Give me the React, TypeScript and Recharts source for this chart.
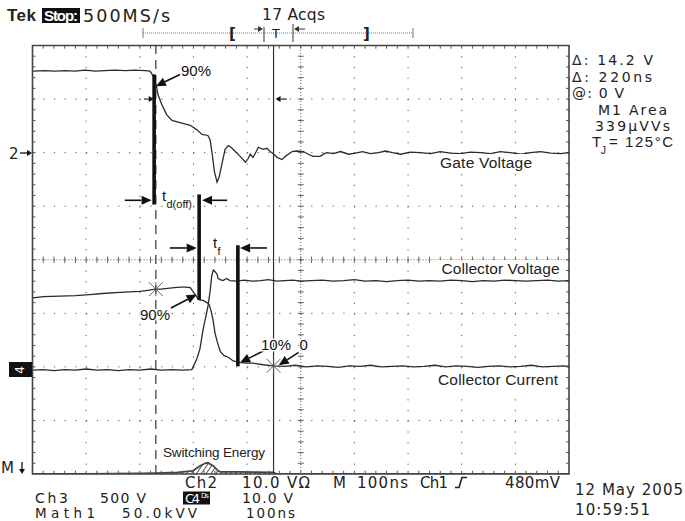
import {
  ComposedChart,
  Line,
  Area,
  XAxis,
  YAxis,
  CartesianGrid,
  ReferenceLine,
  ReferenceArea,
  ReferenceDot,
} from 'recharts';

// time in ns (100 ns/div), level in graticule divisions (0 = bottom edge)
const gateTime = [1, 23, 42, 61, 79, 98, 117, 135, 154, 173, 191, 210, 219, 225, 231, 234, 241, 250, 260, 275, 294, 306, 316, 327, 331, 335, 339, 344, 348, 354, 359, 365, 370, 378, 387, 397, 402, 406, 411, 417, 421, 430, 437, 443, 450, 456, 465, 471, 477, 484, 493, 505, 514, 523, 536, 544, 549, 561, 574, 589, 602, 615, 630, 645, 658, 671, 686, 704, 723, 742, 760, 779, 798, 816, 835, 854, 872, 891, 910, 928, 947, 966, 984, 1000];
const gateLevel = [7.52, 7.53, 7.52, 7.53, 7.52, 7.54, 7.52, 7.53, 7.54, 7.53, 7.54, 7.53, 7.52, 7.43, 7.24, 7.08, 6.9, 6.71, 6.6, 6.56, 6.51, 6.43, 6.34, 6.32, 6.24, 5.97, 5.65, 5.45, 5.55, 5.83, 6.06, 6.13, 6.1, 6.02, 5.93, 5.82, 5.89, 5.97, 5.91, 6.02, 6.1, 6.06, 6.08, 6.02, 5.97, 5.91, 5.87, 5.93, 5.97, 6.02, 6.03, 6.02, 5.97, 5.93, 5.93, 5.98, 6.0, 5.98, 6.02, 5.97, 5.99, 6.02, 5.98, 6.0, 6.03, 6.0, 5.97, 6.01, 6.0, 5.98, 6.02, 5.99, 5.98, 6.01, 6.0, 5.98, 6.02, 6.0, 5.97, 6.0, 6.02, 5.99, 5.98, 6.0];

const vceTime = [1, 20, 40, 60, 80, 100, 120, 140, 160, 180, 200, 220, 240, 260, 280, 297, 306, 312, 318, 324, 327, 331, 334, 337, 340, 344, 346, 350, 355, 362, 368, 380, 395, 410, 425, 440, 455, 470, 485, 500, 520, 540, 560, 580, 600, 620, 640, 660, 680, 700, 720, 740, 760, 780, 800, 820, 840, 860, 880, 900, 920, 940, 960, 980, 1000];
const vceLevel = [1.94, 1.95, 1.93, 1.95, 1.94, 1.96, 1.94, 1.95, 1.93, 1.95, 1.94, 1.96, 1.94, 1.95, 1.94, 1.95, 2.14, 2.33, 2.7, 2.98, 3.13, 3.41, 3.69, 3.81, 3.78, 3.73, 3.65, 3.63, 3.61, 3.65, 3.61, 3.6, 3.62, 3.6, 3.61, 3.63, 3.6, 3.61, 3.62, 3.6, 3.61, 3.62, 3.6, 3.61, 3.63, 3.6, 3.61, 3.59, 3.61, 3.62, 3.6, 3.61, 3.6, 3.62, 3.61, 3.59, 3.61, 3.6, 3.62, 3.61, 3.6, 3.61, 3.62, 3.6, 3.61];

const icTime = [1, 20, 51, 80, 107, 130, 163, 180, 200, 215, 228, 240, 256, 265, 275, 285, 294, 299, 305, 311, 318, 325, 329, 333, 337, 340, 344, 350, 357, 365, 374, 387, 400, 411, 430, 449, 470, 490, 510, 530, 550, 570, 590, 610, 630, 650, 670, 690, 710, 730, 750, 770, 790, 810, 830, 850, 870, 890, 910, 930, 950, 970, 990, 1000];
const icLevel = [3.29, 3.31, 3.32, 3.33, 3.35, 3.37, 3.39, 3.4, 3.41, 3.43, 3.45, 3.45, 3.47, 3.48, 3.49, 3.49, 3.48, 3.41, 3.32, 3.25, 3.24, 3.2, 3.17, 3.04, 2.85, 2.64, 2.48, 2.29, 2.21, 2.18, 2.11, 2.08, 2.07, 2.07, 2.04, 2.02, 2.01, 2.03, 2.0, 2.02, 2.01, 1.99, 2.02, 2.01, 2.03, 2.0, 2.01, 2.02, 2.0, 2.01, 2.03, 2.0, 2.02, 2.01, 1.99, 2.01, 2.02, 2.0, 2.01, 2.03, 2.0, 2.01, 2.02, 2.01];

// Math1 = switching energy (power trace), near the bottom edge
const mathTime = [0, 100, 200, 230, 270, 299, 312, 322, 327, 337, 346, 350, 387, 449, 455, 600, 800, 1000];
const mathLevel = [0, 0, 0.01, 0.015, 0.03, 0.06, 0.15, 0.2, 0.21, 0.15, 0.06, 0.04, 0.04, 0.03, 0, 0, 0, 0];

// measurement annotations (ns, div)
const measureBars = [
  [226.7, 7.46, 5.03],
  [310.6, 5.22, 3.25],
  [382.8, 4.27, 2.01],
];
const bigArrows = [
  [275, 7.46, 230, 7.24],
  [172, 5.11, 222, 5.11],
  [363, 5.11, 316, 5.11],
  [256, 4.22, 306, 4.22],
  [437, 4.22, 387, 4.22],
  [258, 3.1, 306, 3.35],
  [431, 2.3, 387, 2.08],
  [496, 2.27, 459, 2.03],
];
const smallArrows = [
  [208, 7.0, 226, 7.0],
  [474, 7.0, 453, 7.0],
];
const cursorTimes = [229.9, 449.3];
const cursorMarks = [
  [229.9, 3.45],
  [449.3, 2.02],
];

const xTicks = [0, 100, 200, 300, 400, 500, 600, 700, 800, 900, 1000];
const yTicks = [0, 1, 2, 3, 4, 5, 6, 7, 8];
const minorX = Array.from({ length: 49 }, (_, i) => (i + 1) * 20);
const minorY = Array.from({ length: 39 }, (_, i) => Math.round((i + 1) * 2) / 10);

const zip = (ts: number[], vs: number[]) => ts.map((t, i) => ({ t, v: vs[i] }));
const gateData = zip(gateTime, gateLevel);
const vceData = zip(vceTime, vceLevel);
const icData = zip(icTime, icLevel);
const mathData = zip(mathTime, mathLevel);

const SCOPE = "'DejaVu Sans', sans-serif";
const SANS = "'Liberation Sans', Arial, sans-serif";
const INK = '#222';
const TRACE = '#2b2b2b';

function ArrowShape(props: any) {
  const { x1, y1, x2, y2, head = 10, half = 4, width = 1.6 } = props;
  const dx = x2 - x1;
  const dy = y2 - y1;
  const len = Math.hypot(dx, dy) || 1;
  const ux = dx / len;
  const uy = dy / len;
  const bx = x2 - ux * head;
  const by = y2 - uy * head;
  const pts = `${x2},${y2} ${bx - uy * half},${by + ux * half} ${bx + uy * half},${by - ux * half}`;
  return (
    <g>
      <line x1={x1} y1={y1} x2={bx} y2={by} stroke="#111" strokeWidth={width} />
      <polygon points={pts} fill="#111" />
    </g>
  );
}

function CrossMark(props: any) {
  const { cx, cy } = props;
  const r = 7;
  return (
    <g stroke="#555" strokeWidth={0.9}>
      <line x1={cx - r} y1={cy - r} x2={cx + r} y2={cy + r} />
      <line x1={cx - r} y1={cy + r} x2={cx + r} y2={cy - r} />
      <line x1={cx} y1={cy - r} x2={cx} y2={cy + r} />
    </g>
  );
}

function Overlay() {
  const t = (x: number, y: number, s: string, opts: any = {}) => (
    <text
      x={x}
      y={y}
      fontFamily={opts.sans ? SANS : SCOPE}
      fontSize={opts.size ?? 15}
      fontWeight={opts.bold ? 'bold' : 'normal'}
      fill={opts.fill ?? INK}
      textLength={opts.len}
      lengthAdjust={opts.len ? 'spacing' : undefined}
    >
      {s}
    </text>
  );
  const halo = (x: number, y: number, s: string, size = 15) => (
    <text x={x} y={y} fontFamily={SANS} fontSize={size} fill="#111" stroke="#fff" strokeWidth={3} paintOrder="stroke">
      {s}
    </text>
  );
  return (
    <svg
      width={685}
      height={521}
      style={{ position: 'absolute', left: 0, top: 0, pointerEvents: 'none' }}
    >
      <defs>
        <pattern id="hatch" patternUnits="userSpaceOnUse" width="4" height="4" patternTransform="rotate(35)">
          <line x1="0" y1="0" x2="0" y2="4" stroke="#222" strokeWidth="1.5" />
        </pattern>
      </defs>

      {/* header */}
      {t(7, 21, 'Tek', { sans: true, bold: true, size: 17, len: 29 })}
      <rect x={42} y={8} width={38} height={15} fill="#111" />
      {t(44, 21, 'Stop:', { sans: true, bold: true, size: 15, len: 34, fill: '#fff' })}
      {t(83, 22, '500MS/s', { size: 17.5, len: 87 })}
      {t(262, 20, '17 Acqs', { size: 15.5, len: 63 })}

      {/* record ruler */}
      <line x1={143} y1={33} x2={413} y2={33} stroke="#777" strokeWidth={1} strokeDasharray="1 1" />
      <line x1={143} y1={28} x2={143} y2={38} stroke="#777" />
      <line x1={413} y1={28} x2={413} y2={38} stroke="#777" />
      {t(229, 39, '[', { size: 15, bold: true })}
      {t(363, 39, ']', { size: 15, bold: true })}
      {t(272, 38, 'T', { size: 13 })}
      <line x1={264} y1={27} x2={264} y2={42} stroke="#333" />
      <line x1={293} y1={24} x2={293} y2={42} stroke="#333" />
      <line x1={254} y1={29} x2={262} y2={29} stroke="#333" />
      <polygon points="263,29 258,26 258,32" fill="#333" />
      <line x1={297} y1={29} x2={305} y2={29} stroke="#333" />
      <polygon points="294,29 299,26 299,32" fill="#333" />

      {/* channel markers on the left */}
      {t(9, 158.5, '2', { size: 15 })}
      <line x1={20} y1={153} x2={28} y2={153} stroke="#111" strokeWidth={1.3} />
      <polygon points="32,153 27,150 27,156" fill="#111" />
      <rect x={9} y={362} width={23} height={15} fill="#111" />
      <text x={20} y={370} fontFamily={SCOPE} fontSize={12} fill="#fff" transform="rotate(-90 20 370)" textAnchor="middle" dominantBaseline="central">
        4
      </text>
      {t(1, 473, 'M', { size: 15, len: 14 })}
      <line x1={22} y1={462} x2={22} y2={470} stroke="#111" strokeWidth={1.3} />
      <polygon points="22,474 19,469 25,469" fill="#111" />

      {/* readouts on the right */}
      {t(572, 65, '\u0394: 14.2 V', { size: 14, len: 81 })}
      {t(572, 81.5, '\u0394: 220ns', { size: 14, len: 80 })}
      {t(572, 97.5, '@: 0 V', { size: 14, len: 52 })}
      {t(598, 115, 'M1 Area', { size: 14, len: 69 })}
      {t(595, 131, '339\u00b5VVs', { size: 14, len: 75 })}
      {t(592, 147, 'T', { sans: true, size: 15 })}
      {t(601, 154, 'J', { sans: true, size: 10 })}
      {t(609, 147, '= 125\u00b0C', { sans: true, size: 15, len: 64 })}

      {/* trace labels */}
      <rect x={437} y={154} width={98} height={18} fill="#fff" />
      {t(440, 168, 'Gate Voltage', { sans: true, size: 15.5, len: 92 })}
      <rect x={438} y={260} width={126} height={18} fill="#fff" />
      {t(441.5, 273.5, 'Collector Voltage', { sans: true, size: 15.5, len: 118 })}
      <rect x={435} y={372} width={128} height={18} fill="#fff" />
      {t(438, 385, 'Collector Current', { sans: true, size: 15.5, len: 120 })}
      <rect x={160} y={443} width={109} height={17} fill="#fff" />
      {t(163, 456.5, 'Switching Energy', { sans: true, size: 13.5, len: 102 })}

      {/* measurement labels */}
      {halo(181, 76, '90%')}
      {halo(140, 319.5, '90%')}
      {halo(261, 349.5, '10%')}
      {halo(299.5, 349.5, '0')}
      {halo(162, 200.5, 't')}
      {halo(166.5, 208, 'd(off)', 11)}
      {halo(213, 248, 't')}
      {halo(217.5, 255, 'f', 11)}

      {/* status line */}
      {t(185, 488, 'Ch2', { len: 32 })}
      {t(242, 488, '10.0 V\u03a9', { len: 68 })}
      {t(333, 488, 'M', { len: 11 })}
      {t(357, 488, '100ns', { len: 51 })}
      {t(420, 488, 'Ch1', { len: 28 })}
      <polyline points="455,487.5 459,487.5 462,477.5 467,477.5" fill="none" stroke={INK} strokeWidth={1.6} />
      {t(505, 488, '480mV', { len: 55 })}
      {t(35, 503, 'Ch3', { len: 33, size: 14 })}
      {t(100, 503, '500 V', { len: 46, size: 14 })}
      <rect x={183} y={491.5} width={27} height={13} fill="#111" />
      {t(185, 503, 'C4', { len: 15, size: 13, fill: '#fff' })}
      {t(201, 497.5, 'Ds', { len: 8, size: 7, fill: '#fff' })}
      {t(242, 503, '10.0 V', { len: 51, size: 14 })}
      {t(35, 517.5, 'Math1', { len: 60, size: 13.5 })}
      {t(122, 517.5, '50.0kVV', { len: 75, size: 13.5 })}
      {t(246, 517.5, '100ns', { len: 49, size: 13.5 })}
      {t(575, 494.5, '12 May 2005', { len: 108 })}
      {t(575, 515, '10:59:51', { len: 75 })}
    </svg>
  );
}

export default function App() {
  return (
    <div style={{ position: 'absolute', left: 0, top: 0, width: 685, height: 521, background: '#fff' }}>
      <ComposedChart
        width={685}
        height={521}
        data={mathData}
        margin={{ top: 45.5, right: 116, bottom: 47, left: 32.5 }}
      >
        <XAxis dataKey="t" type="number" domain={[0, 1000]} ticks={xTicks} allowDataOverflow hide />
        <YAxis type="number" domain={[0, 8]} ticks={yTicks} allowDataOverflow hide />
        <CartesianGrid stroke="#555" strokeDasharray="1.2 9.52" strokeWidth={1} />

        {/* center cross, denser dots with minor ticks */}
        <ReferenceLine x={500} stroke="#666" strokeDasharray="1 2" />
        <ReferenceLine y={4} stroke="#666" strokeDasharray="1 2" />
        {minorX.map((x) => (
          <ReferenceLine key={`cx${x}`} segment={[{ x, y: 3.94 }, { x, y: 4.06 }]} stroke="#666" />
        ))}
        {minorY.map((y) => (
          <ReferenceLine key={`cy${y}`} segment={[{ x: 494.4, y }, { x: 505.6, y }]} stroke="#666" />
        ))}

        {/* graticule frame and its edge ticks */}
        {minorX.map((x) => (
          <ReferenceLine key={`tb${x}`} segment={[{ x, y: 0 }, { x, y: 0.06 }]} stroke="#555" />
        ))}
        {minorX.map((x) => (
          <ReferenceLine key={`tt${x}`} segment={[{ x, y: 8 }, { x, y: 7.94 }]} stroke="#555" />
        ))}
        {minorY.map((y) => (
          <ReferenceLine key={`tl${y}`} segment={[{ x: 0, y }, { x: 5.6, y }]} stroke="#555" />
        ))}
        {minorY.map((y) => (
          <ReferenceLine key={`tr${y}`} segment={[{ x: 1000, y }, { x: 994.4, y }]} stroke="#555" />
        ))}
        <ReferenceArea x1={0} x2={1000} y1={0} y2={8} fill="none" stroke="#444" strokeWidth={1.6} />

        {/* time cursors */}
        <ReferenceLine x={cursorTimes[0]} stroke="#333" strokeWidth={1.2} strokeDasharray="9 6" />
        <ReferenceLine x={cursorTimes[1]} stroke="#333" strokeWidth={1.2} />

        <Area
          dataKey="v"
          type="linear"
          baseValue={0}
          stroke="#444"
          strokeWidth={1.8}
          fill="url(#hatch)"
          fillOpacity={1}
          dot={false}
          activeDot={false}
          isAnimationActive={false}
        />
        <Line data={gateData} dataKey="v" type="linear" stroke={TRACE} strokeWidth={1.3} dot={false} activeDot={false} isAnimationActive={false} />
        <Line data={vceData} dataKey="v" type="linear" stroke={TRACE} strokeWidth={1.3} dot={false} activeDot={false} isAnimationActive={false} />
        <Line data={icData} dataKey="v" type="linear" stroke={TRACE} strokeWidth={1.3} dot={false} activeDot={false} isAnimationActive={false} />

        {measureBars.map(([x, y1, y2], i) => (
          <ReferenceLine key={`bar${i}`} segment={[{ x, y: y1 }, { x, y: y2 }]} stroke="#111" strokeWidth={3.6} />
        ))}
        {bigArrows.map(([x1, y1, x2, y2], i) => (
          <ReferenceLine
            key={`arr${i}`}
            segment={[{ x: x1, y: y1 }, { x: x2, y: y2 }]}
            shape={(p: any) => <ArrowShape {...p} head={10} half={4.5} width={1.6} />}
          />
        ))}
        {smallArrows.map(([x1, y1, x2, y2], i) => (
          <ReferenceLine
            key={`sarr${i}`}
            segment={[{ x: x1, y: y1 }, { x: x2, y: y2 }]}
            shape={(p: any) => <ArrowShape {...p} head={5} half={3} width={1.1} />}
          />
        ))}
        {cursorMarks.map(([x, y], i) => (
          <ReferenceDot key={`cm${i}`} x={x} y={y} r={7} shape={(p: any) => <CrossMark {...p} />} />
        ))}
      </ComposedChart>
      <Overlay />
    </div>
  );
}
